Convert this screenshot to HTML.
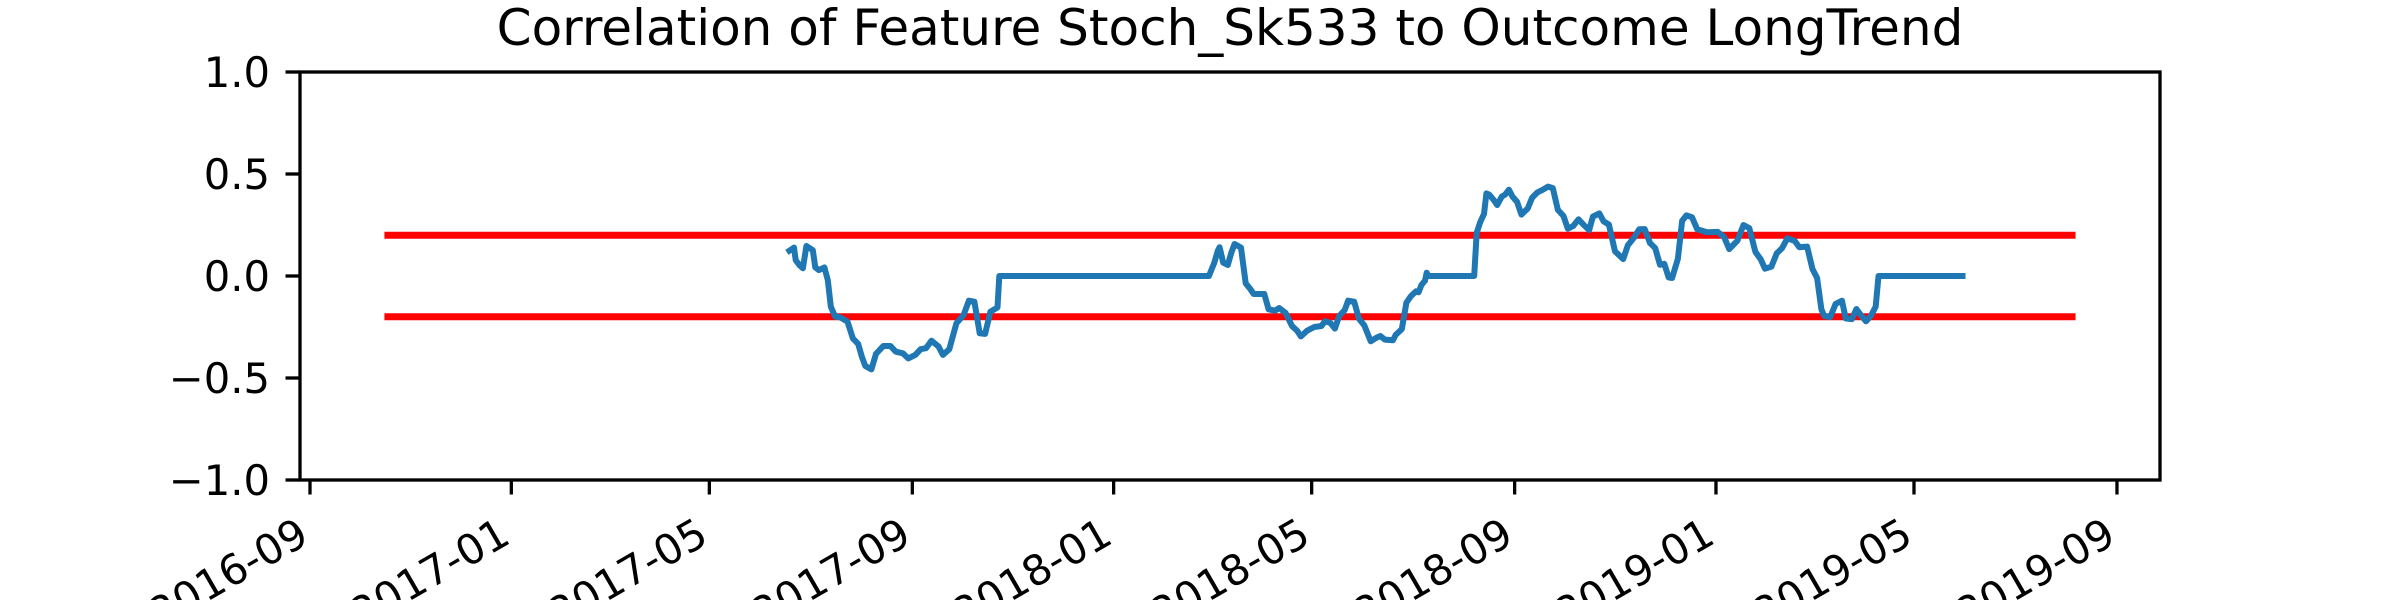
<!DOCTYPE html>
<html><head><meta charset="utf-8"><style>
html,body{margin:0;padding:0;background:#fff;overflow:hidden}
svg{display:block}
text{font-family:"DejaVu Sans","Liberation Sans",sans-serif;fill:#000}
</style></head><body>
<svg id="chart" width="2400" height="600" viewBox="0 0 2400 600" xmlns="http://www.w3.org/2000/svg">
<rect x="0" y="0" width="2400" height="600" fill="#fff"/>
<text x="1230" y="45" font-size="50" text-anchor="middle">Correlation of Feature Stoch_Sk533 to Outcome LongTrend</text>
<g id="plot"></g>
<rect x="300" y="72" width="1860" height="408" fill="none" stroke="#000" stroke-width="3.3"/>
</svg>
<script>
// days since 2016-09-01
const seriesDays = [290.5,293.3,294.3,296.5,298.7,300.8,304.7,306.2,308.4,311.7,313.8,315.6,318.2,321.4,325.7,329.0,332.2,334.4,336.5,340.2,343.0,347.4,351.7,355.0,359.3,362.5,366.8,370.1,373.3,376.6,380.9,383.5,387.4,391.7,396.1,399.3,402.6,405.8,409.1,412.3,416.6,417.7,544.7,548.0,550.1,551.2,553.4,556.2,558.3,560.3,564.2,567.0,569.6,571.8,578.3,580.9,584.8,587.3,591.2,595.1,598.2,600.5,604.2,608.6,612.9,615.1,618.3,621.1,623.7,627.0,629.1,632.8,635.6,638.9,642.8,646.4,648.6,651.4,656.2,657.9,661.6,664.4,667.0,670.2,671.8,673.5,675.7,676.7,677.8,705.5,707.0,709.2,711.4,712.9,714.6,717.2,719.4,722.2,724.3,726.5,728.7,731.5,734.1,738.0,740.6,743.8,747.1,750.3,753.1,756.2,759.6,762.2,765.5,768.7,771.9,775.2,777.4,781.3,783.9,787.1,790.8,795.8,798.6,802.3,805.5,808.8,812.0,815.2,818.1,820.7,823.3,825.4,828.9,831.5,834.1,837.5,840.6,846.6,853.1,857.0,860.0,865.0,868.7,872.2,875.9,879.1,881.7,885.6,888.8,892.1,895.3,899.7,902.5,907.2,910.5,913.3,915.9,917.6,921.3,924.5,928.4,930.6,934.3,937.1,939.7,942.9,945.8,948.8,950.5,1001.4];
const seriesValues = [0.124,0.139,0.078,0.054,0.038,0.147,0.127,0.042,0.029,0.042,-0.020,-0.150,-0.199,-0.203,-0.224,-0.306,-0.333,-0.395,-0.441,-0.458,-0.382,-0.343,-0.343,-0.371,-0.379,-0.404,-0.387,-0.359,-0.354,-0.317,-0.346,-0.387,-0.359,-0.232,-0.191,-0.121,-0.126,-0.281,-0.284,-0.175,-0.154,0.0,0.0,0.065,0.124,0.141,0.065,0.054,0.114,0.157,0.139,-0.036,-0.062,-0.088,-0.088,-0.163,-0.170,-0.157,-0.181,-0.245,-0.268,-0.296,-0.268,-0.250,-0.245,-0.222,-0.230,-0.258,-0.196,-0.167,-0.121,-0.126,-0.209,-0.242,-0.320,-0.302,-0.294,-0.312,-0.315,-0.288,-0.261,-0.131,-0.100,-0.075,-0.080,-0.044,-0.023,0.016,0.0,0.0,0.212,0.265,0.304,0.405,0.399,0.374,0.348,0.389,0.399,0.423,0.389,0.363,0.301,0.332,0.384,0.410,0.423,0.438,0.431,0.324,0.294,0.232,0.245,0.278,0.250,0.225,0.291,0.307,0.268,0.252,0.121,0.083,0.150,0.188,0.229,0.230,0.162,0.137,0.055,0.060,-0.007,-0.010,0.085,0.270,0.297,0.288,0.229,0.214,0.216,0.190,0.132,0.173,0.250,0.235,0.118,0.082,0.036,0.046,0.111,0.137,0.185,0.172,0.141,0.144,0.034,-0.010,-0.163,-0.196,-0.201,-0.137,-0.121,-0.208,-0.212,-0.162,-0.190,-0.222,-0.196,-0.150,0.0,0.0];
const thresholdValues = [0.2,-0.2];
const thresholdDays = [45.1,1069.9];
const xTickDays = [0,122,242,365,487,607,730,852,972,1095];
const xTickLabels = ["2016-09","2017-01","2017-05","2017-09","2018-01","2018-05","2018-09","2019-01","2019-05","2019-09"];
const yTickValues = [1.0,0.5,0.0,-0.5,-1.0];
const yTickLabels = ["1.0","0.5","0.0","\u22120.5","\u22121.0"];

const NS = "http://www.w3.org/2000/svg";
const X0 = 310, PXD = 1.6502;
function xScale(d){ return X0 + d*PXD; }
function yScale(v){ return 276 - v*204; }
const svg = document.getElementById('chart');
const plot = document.getElementById('plot');
function mk(tag, attrs, parent){ const e=document.createElementNS(NS,tag); for(const k in attrs) e.setAttribute(k,attrs[k]); (parent||svg).appendChild(e); return e; }

thresholdValues.forEach((v,i)=>{
  const l = mk('line',{x1:xScale(thresholdDays[0]),x2:xScale(thresholdDays[1]),y1:yScale(v),y2:yScale(v),stroke:'#ff0000','stroke-width':7},plot);
  
  
});
let d='';
const n = Math.min(seriesDays.length, seriesValues.length);
for(let i=0;i<n;i++){ d += (i?'L':'M') + xScale(seriesDays[i]).toFixed(1)+','+yScale(seriesValues[i]).toFixed(1); }
const path = mk('path',{d:d,fill:'none',stroke:'#1f77b4','stroke-width':6,'stroke-linejoin':'round','stroke-linecap':'square'},plot);



yTickValues.forEach((v,i)=>{
  const y=yScale(v);
  const t = mk('line',{x1:285.5,x2:300,y1:y,y2:y,stroke:'#000','stroke-width':3.3});
  
  
  const tx = mk('text',{x:270,y:y+15,'font-size':41.7,'text-anchor':'end'});
  tx.textContent = yTickLabels[i];
  
  
});
xTickDays.forEach((day,i)=>{
  const x=xScale(day);
  const t = mk('line',{x1:x,x2:x,y1:480,y2:494.5,stroke:'#000','stroke-width':3.3});
  
  
  const ax = x-14, ay = 516;
  const tx = mk('text',{x:ax,y:ay,'font-size':41.7,'text-anchor':'end',dy:'30',transform:'rotate(-30 '+ax+' '+ay+')'});
  tx.textContent = xTickLabels[i];
  
  
});
</script>
</body></html>
